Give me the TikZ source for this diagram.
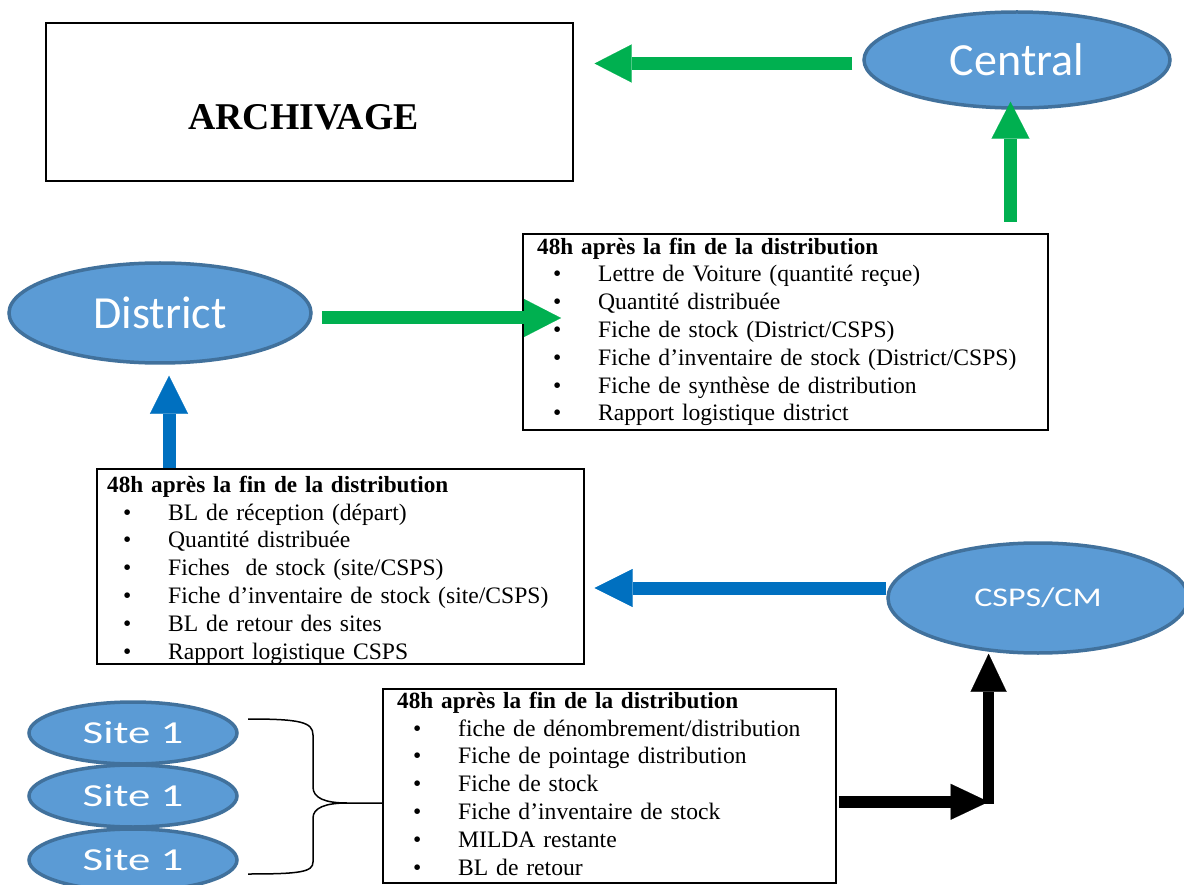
\documentclass[tikz,border=0pt]{standalone}
\usepackage{fontspec}
\setmainfont{Liberation Serif}
\newfontfamily\calfont{Carlito}
\newfontfamily\calwideA[FakeStretch=1.26]{Carlito}
\newfontfamily\calwideB[FakeStretch=1.4]{Carlito}
\usetikzlibrary{shapes.geometric,arrows.meta,calc}
\definecolor{ggreen}{HTML}{00B050}
\definecolor{bblue}{HTML}{0070C0}
\definecolor{efill}{HTML}{5B9BD5}
\definecolor{edraw}{HTML}{41719C}
\tikzset{
 oval/.style={ellipse, draw=edraw, fill=efill, line width=3.5pt, inner sep=0pt, text=white},
 frame/.style={draw=black, line width=1.6pt, rectangle, inner sep=0pt, anchor=north west},
 listtext/.style={anchor=north west, inner sep=0pt, text width=520pt, align=left, font=\fontsize{23.6}{27.8}\selectfont},
 garrow/.style={line width=13pt, draw=ggreen, -{Triangle[width=38pt,length=37pt,line width=0.1pt]}},
 barrow/.style={line width=13pt, draw=bblue, -{Triangle[width=38pt,length=38pt,line width=0.1pt]}},
 karrow/.style={line width=11.5pt, draw=black, -{Triangle[width=36pt,length=38pt,line width=0.1pt]}},
 bracestyle/.style={draw=black, line width=1.5pt},
}
\newcommand\itm[1]{\\\hspace*{16pt}\makebox[45pt][l]{•}#1}
\newcommand\ttl[1]{\rule{0pt}{20pt}{\fontsize{23.2}{27.8}\selectfont\bfseries #1}}
\begin{document}
\begin{tikzpicture}[x=1pt,y=-1pt]
\useasboundingbox (0,0) rectangle (1184,885);

% ARCHIVAGE
\node[frame, minimum width=527pt, minimum height=158pt] (arch) at (45,22) {};
\node[font=\bfseries\fontsize{37.8}{42}\selectfont, anchor=base, inner sep=0pt] (archt) at (303.5,130) {ARCHIVAGE};

% ellipses
\node[oval, minimum width=306pt, minimum height=96pt, font=\calfont\fontsize{46}{50}\selectfont] (central) at (1017,60) {Central};
\node[oval, minimum width=302pt, minimum height=100pt, font=\calfont\fontsize{46}{50}\selectfont] (district) at (160,313) {District};
\node[oval, minimum width=300pt, minimum height=110pt, font=\calwideA\fontsize{27}{30}\selectfont] (csps) at (1038,598) {CSPS/CM};
\node[oval, minimum width=208pt, minimum height=62pt, font=\calwideB\fontsize{32}{36}\selectfont] (site1) at (133,733) {Site 1};
\node[oval, minimum width=208pt, minimum height=62pt, font=\calwideB\fontsize{32}{36}\selectfont] (site2) at (133,796) {Site 1};
\node[oval, minimum width=208pt, minimum height=62pt, font=\calwideB\fontsize{32}{36}\selectfont] (site3) at (133,860) {Site 1};

% box 2 (district report)
\node[frame, minimum width=525pt, minimum height=196pt] (f2) at (522,233) {};
\node[listtext] (t2) at ($(f2.north west)+(15,1)$) {\ttl{48h après la fin de la distribution}%
\itm{Lettre de Voiture (quantité reçue)}%
\itm{Quantité distribuée}%
\itm{Fiche de stock (District/CSPS)}%
\itm{Fiche d’inventaire de stock (District/CSPS)}%
\itm{Fiche de synthèse de distribution}%
\itm{Rapport logistique district}};

% box 3 (CSPS report)
\node[frame, minimum width=487pt, minimum height=195pt] (f3) at (96,468) {};
\node[listtext] (t3) at ($(f3.north west)+(11,4)$) {\ttl{48h après la fin de la distribution}%
\itm{BL de réception (départ)}%
\itm{Quantité distribuée}%
\itm{Fiches\ \ de stock (site/CSPS)}%
\itm{Fiche d’inventaire de stock (site/CSPS)}%
\itm{BL de retour des sites}%
\itm{Rapport logistique CSPS}};

% box 4 (site report)
\node[frame, minimum width=453pt, minimum height=194pt] (f4) at (382,688) {};
\node[listtext] (t4) at ($(f4.north west)+(15,0)$) {\ttl{48h après la fin de la distribution}%
\itm{fiche de dénombrement/distribution}%
\itm{Fiche de pointage distribution}%
\itm{Fiche de stock}%
\itm{Fiche d’inventaire de stock}%
\itm{MILDA restante}%
\itm{BL de retour}};

% arrows
\draw[garrow] ([xshift=-10pt,yshift=-3.5pt]central.west) -- ([xshift=21pt,yshift=-3.5pt]central.west -| arch.east);
\draw[garrow] ([xshift=-6.5pt,yshift=11pt]f2.north -| central.south) -- ([xshift=-6.5pt,yshift=8pt]central.south);
\draw[garrow] ([xshift=9pt,yshift=-5pt]district.east) -- ([xshift=39pt,yshift=-5pt]district.east -| f2.west);
\draw[barrow] ([xshift=9pt]district.south |- f3.north) -- ([xshift=9pt,yshift=-11pt]district.south);
\draw[barrow] ([yshift=10pt]csps.west) -- ([xshift=10pt,yshift=10pt]csps.west -| f3.east);
\coordinate (elbow) at ([xshift=152pt,yshift=-16pt]f4.east);
\draw[karrow] ([xshift=2pt,yshift=-16pt]f4.east) -- (elbow);
\draw[karrow] ([yshift=-2pt]elbow) -- ([yshift=1pt]elbow |- csps.south);

% brace from sites to box 4
\draw[bracestyle] (248,719) .. controls (300,719) and (313,722) .. (313,735) -- (313,787)
  .. controls (313,798) and (325,803) .. (347,803) -- (f4.west |- 0,803);
\draw[bracestyle] (347,803) .. controls (325,803) and (313,808) .. (313,818) -- (313,862)
  .. controls (313,872) and (300,874) .. (248,874);
\end{tikzpicture}
\end{document}
